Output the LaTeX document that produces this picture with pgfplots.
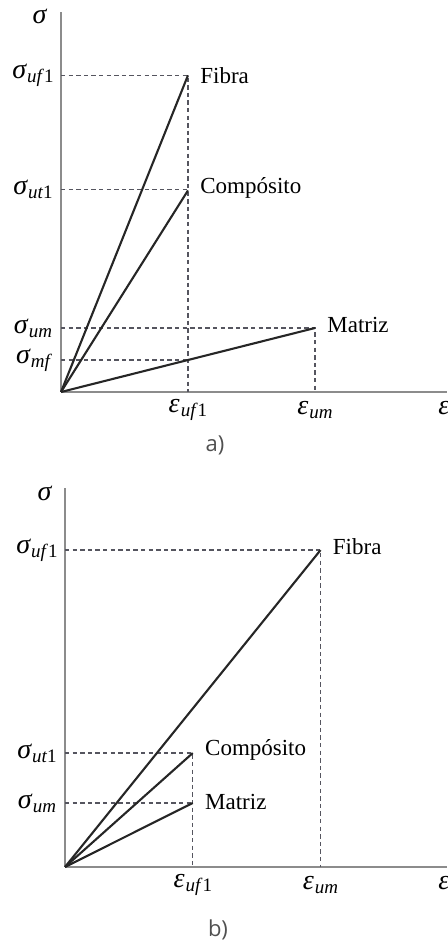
\documentclass[border=0pt]{standalone}
\usepackage{pgfplots}
\pgfplotsset{compat=1.18}
\usepackage[no-math]{fontspec}
\setmainfont{Liberation Serif}
\newfontfamily\capfont{Open Sans}

\definecolor{curve}{HTML}{262626}
\definecolor{guide}{HTML}{55555F}
\definecolor{axisgray}{HTML}{8C8C8C}
\definecolor{capgray}{HTML}{505050}

% Greek symbol with an italic subscript
\newcommand{\gsym}[2]{{\fontsize{14}{16}\selectfont\itshape #1}\kern0.5pt\raisebox{-0.45ex}{\fontsize{9.5}{11}\selectfont\itshape #2}}
\newcommand{\lbl}[1]{{\fontsize{11.5}{13}\selectfont #1}}

\pgfplotsset{
  mech/.style={
    scale only axis,
    axis lines=left,
    axis line style={-, axisgray, line width=0.9pt},
    xmin=0, ymin=0,
    major tick length=0pt,
    tick style={draw=none},
    xticklabel style={anchor=center, yshift=-9pt},
    yticklabel style={anchor=center, xshift=-14pt},
    clip=false,
  },
  guideline/.style={guide, line width=0.6pt, dash pattern=on 2.2pt off 1.6pt},
  stress/.style={curve, line width=1.05pt},
}

\begin{document}
\begin{tikzpicture}
\useasboundingbox (0,0) rectangle (223.5pt,471pt);

% ---------- a) ----------
\begin{axis}[mech,
  at={(30.5pt,275pt)}, anchor=south west,
  width=193pt, height=190pt,
  xmax=3.04, ymax=5.94,
  xtick={1,2,3.02},
  xticklabels={\gsym{ε}{uf\textup{1}}, \gsym{ε}{um}, \gsym{ε}{}},
  ytick={0.5,1,3.17,4.95},
  yticklabels={\gsym{σ}{mf}, \gsym{σ}{um}, \gsym{σ}{ut\textup{1}}, \gsym{σ}{uf\textup{1}}},
]
\addplot[guideline] coordinates {(0,4.95) (1,4.95) (1,0)};
\addplot[guideline] coordinates {(0,3.17) (1,3.17)};
\addplot[guideline] coordinates {(0,1) (2,1) (2,0)};
\addplot[guideline] coordinates {(0,0.5) (1,0.5)};
\addplot[stress] coordinates {(0,0) (1,4.95)};
\addplot[stress] coordinates {(0,0) (1,3.15)};
\addplot[stress] coordinates {(0,0) (2,1)};
\node[anchor=west, inner sep=0pt, xshift=6pt] at (axis cs:1,4.95) {\lbl{Fibra}};
\node[anchor=west, inner sep=0pt, xshift=6pt] at (axis cs:1,3.19) {\lbl{Compósito}};
\node[anchor=west, inner sep=0pt, xshift=6pt] at (axis cs:2,1.05) {\lbl{Matriz}};
\node[xshift=-10.5pt] at (axis cs:0,5.84) {\gsym{σ}{}};
\end{axis}
\node[capgray] at (107.5pt,248.5pt) {\capfont\fontsize{11}{13}\selectfont a)};

% ---------- b) ----------
\begin{axis}[mech,
  at={(32.5pt,37.5pt)}, anchor=south west,
  width=191pt, height=189.5pt,
  xmax=2.99, ymax=5.92,
  xtick={1,2,2.97},
  xticklabels={\gsym{ε}{uf\textup{1}}, \gsym{ε}{um}, \gsym{ε}{}},
  ytick={1,1.78,4.95},
  yticklabels={\gsym{σ}{um}, \gsym{σ}{ut\textup{1}}, \gsym{σ}{uf\textup{1}}},
]
\addplot[guideline] coordinates {(0,4.95) (2,4.95) (2,0)};
\addplot[guideline] coordinates {(0,1.78) (1,1.78) (1,0)};
\addplot[guideline] coordinates {(0,1) (1,1)};
\addplot[stress] coordinates {(0,0) (2,4.95)};
\addplot[stress] coordinates {(0,0) (1,1.78)};
\addplot[stress] coordinates {(0,0) (1,1)};
\node[anchor=west, inner sep=0pt, xshift=6pt] at (axis cs:2,5.0) {\lbl{Fibra}};
\node[anchor=west, inner sep=0pt, xshift=6pt] at (axis cs:1,1.83) {\lbl{Compósito}};
\node[anchor=west, inner sep=0pt, xshift=6pt] at (axis cs:1,1.02) {\lbl{Matriz}};
\node[xshift=-10pt] at (axis cs:0,5.8) {\gsym{σ}{}};
\end{axis}
\node[capgray] at (109pt,6pt) {\capfont\fontsize{11}{13}\selectfont b)};
\end{tikzpicture}
\end{document}
